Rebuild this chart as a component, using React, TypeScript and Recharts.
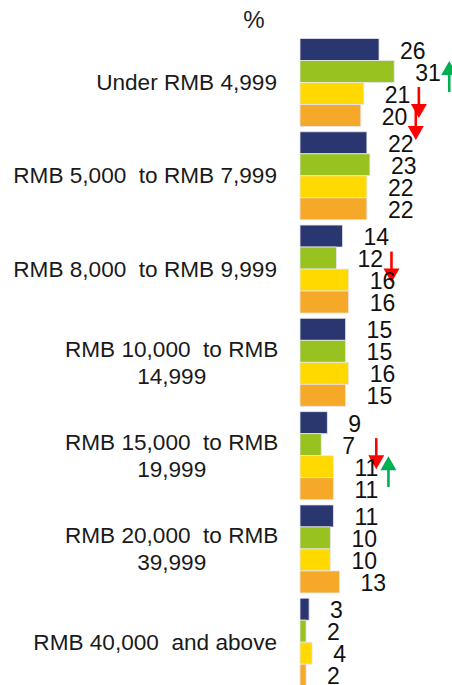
import React from 'react';
import { BarChart, Bar, XAxis, YAxis, LabelList } from 'recharts';

const categories = [
  'Under RMB 4,999',
  'RMB 5,000  to RMB 7,999',
  'RMB 8,000  to RMB 9,999',
  'RMB 10,000  to RMB 14,999',
  'RMB 15,000  to RMB 19,999',
  'RMB 20,000  to RMB 39,999',
  'RMB 40,000  and above',
];

const navyValues = [26, 22, 14, 15, 9, 11, 3];
const greenValues = [31, 23, 12, 15, 7, 10, 2];
const yellowValues = [21, 22, 16, 16, 11, 10, 4];
const orangeValues = [20, 22, 16, 15, 11, 13, 2];

// significant change markers per series
const navyChange = [null, null, null, null, null, null, null];
const greenChange = ['up', null, 'down', null, 'down', null, null];
const yellowChange = ['down', null, null, null, 'up', null, null];
const orangeChange = ['down', null, null, null, null, null, null];

const data = categories.map((name, i) => ({
  name,
  navy: navyValues[i],
  green: greenValues[i],
  yellow: yellowValues[i],
  orange: orangeValues[i],
}));

const FONT = '"Liberation Sans", Arial, sans-serif';

const wrap = (label: string): string[] => {
  if (label.length <= 23) return [label];
  const cut = label.lastIndexOf(' ');
  return [label.slice(0, cut), label.slice(cut + 1)];
};

const CategoryTick = (props: any) => {
  const { x, y, payload } = props;
  const lines = wrap(payload.value);
  if (lines.length === 1) {
    return (
      <text x={x} y={y} textAnchor="end" dominantBaseline="central" fontSize={22.6}
        fontFamily={FONT} fill="#1a1a1a" style={{ whiteSpace: 'pre' }}>
        {lines[0]}
      </text>
    );
  }
  const longest = Math.max(...lines.map((l) => l.length));
  const cx = x - (longest * 11.7) / 2;
  return (
    <text x={cx} y={y} textAnchor="middle" fontSize={22.6} fontFamily={FONT}
      fill="#1a1a1a" style={{ whiteSpace: 'pre' }}>
      {lines.map((l, i) => (
        <tspan key={i} x={cx} y={y - 13.5 + i * 27} dominantBaseline="central">{l}</tspan>
      ))}
    </text>
  );
};

const Arrow = ({ cx, cy, dir }: { cx: number; cy: number; dir: string }) => {
  const len = 31;
  const head = 14;
  const half = 8;
  const color = dir === 'up' ? '#00b050' : '#ff0000';
  if (dir === 'down') {
    const top = cy - len / 2;
    const tip = cy + len / 2;
    return (
      <g>
        <line x1={cx} y1={top} x2={cx} y2={tip - head + 1} stroke={color} strokeWidth={2.6} />
        <polygon points={`${cx - half},${tip - head} ${cx + half},${tip - head} ${cx},${tip}`} fill={color} />
      </g>
    );
  }
  const tip = cy - len / 2;
  const bottom = cy + len / 2;
  return (
    <g>
      <line x1={cx} y1={tip + head - 1} x2={cx} y2={bottom} stroke={color} strokeWidth={2.6} />
      <polygon points={`${cx - half},${tip + head} ${cx + half},${tip + head} ${cx},${tip}`} fill={color} />
    </g>
  );
};

const makeLabel = (changes: (string | null)[]) => (props: any) => {
  const { x, y, width, height, value, index } = props;
  const end = x + width;
  const cy = y + height / 2;
  const dir = changes[index];
  return (
    <g>
      <text x={end + 21} y={cy + 1} dominantBaseline="central" fontSize={23}
        fontFamily={FONT} fill="#111">
        {value}
      </text>
      {dir && <Arrow cx={end + 55} cy={dir === 'down' ? cy + 9 : cy + 5} dir={dir} />}
    </g>
  );
};

const series = [
  { key: 'navy', color: '#29366f', changes: navyChange },
  { key: 'green', color: '#97c21f', changes: greenChange },
  { key: 'yellow', color: '#ffd900', changes: yellowChange },
  { key: 'orange', color: '#f6a828', changes: orangeChange },
];

export default function App() {
  return (
    <div style={{ position: 'fixed', left: 0, top: 0, width: 452, height: 685, overflow: 'hidden', background: '#fff', fontFamily: FONT }}>
      <div style={{ position: 'absolute', left: 234, top: 8, width: 40, textAlign: 'center', fontSize: 24, lineHeight: '24px', color: '#222' }}>
        %
      </div>
      <div style={{ position: 'absolute', left: 8, top: 8 }}>
        <BarChart
          width={444}
          height={681}
          data={data}
          layout="vertical"
          margin={{ top: 28, right: 0, bottom: 0, left: 0 }}
          barGap={0}
          barCategoryGap={2.5}
        >
          <XAxis type="number" domain={[0, 50]} hide />
          <YAxis
            type="category"
            dataKey="name"
            width={292}
            axisLine={false}
            tickLine={false}
            tickSize={0}
            tickMargin={23}
            interval={0}
            tick={<CategoryTick />}
          />
          {series.map((s) => (
            <Bar key={s.key} dataKey={s.key} fill={s.color} stroke="#e6e8f0" strokeWidth={0.8} isAnimationActive={false}>
              <LabelList dataKey={s.key} content={makeLabel(s.changes)} />
            </Bar>
          ))}
        </BarChart>
      </div>
    </div>
  );
}
